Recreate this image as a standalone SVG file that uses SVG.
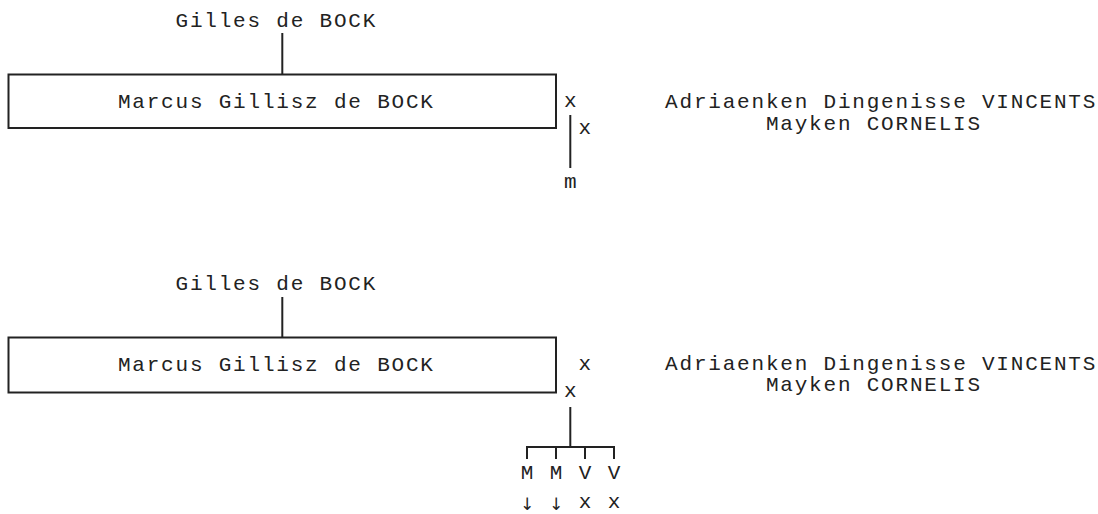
<svg xmlns="http://www.w3.org/2000/svg" width="1098" height="514" viewBox="0 0 1098 514">
<style>
text{font-family:"Liberation Mono","Courier New","DejaVu Sans Mono",monospace;font-size:21px;letter-spacing:1.8px;fill:#222}
.c{text-anchor:middle;letter-spacing:0}
.ar{font-family:"DejaVu Sans","Liberation Sans",sans-serif;font-size:17px;fill:#222}
.box{fill:none;stroke:#222;stroke-width:2}
.ln{stroke:#222;stroke-width:2;fill:none}
</style>
<rect width="1098" height="514" fill="#fff"/>
<!-- Diagram 1 -->
<g id="d1-gilles"><text x="175.5" y="27">Gilles de BOCK</text></g>
<g id="d1-marcus"><rect class="box" x="8.5" y="74.5" width="547.5" height="53.5"/><text x="117.9" y="108">Marcus Gillisz de BOCK</text></g>
<g id="d1-spouse1"><text class="c" x="570.3" y="107">x</text><text x="665.1" y="108">Adriaenken Dingenisse VINCENTS</text></g>
<g id="d1-spouse2"><text class="c" x="584.7" y="134">x</text><text x="765.9" y="130">Mayken CORNELIS</text></g>
<g id="d1-child"><text class="c" x="570.3" y="188">m</text></g>
<g id="d1-connectors">
<line class="ln" x1="282.3" y1="33" x2="282.3" y2="74.5"/>
<line class="ln" x1="570.3" y1="115" x2="570.3" y2="168"/>
</g>
<!-- Diagram 2 -->
<g id="d2-gilles"><text x="175.5" y="290">Gilles de BOCK</text></g>
<g id="d2-marcus"><rect class="box" x="8.5" y="337.5" width="547.5" height="55"/><text x="117.9" y="371">Marcus Gillisz de BOCK</text></g>
<g id="d2-spouse1"><text class="c" x="584.7" y="370">x</text><text x="665.1" y="370">Adriaenken Dingenisse VINCENTS</text></g>
<g id="d2-spouse2"><text class="c" x="570.3" y="397">x</text><text x="765.9" y="391">Mayken CORNELIS</text></g>
<g id="d2-child1"><text class="c" x="527" y="479">M</text><text class="c ar" x="527" y="510">↓</text></g>
<g id="d2-child2"><text class="c" x="556" y="479">M</text><text class="c ar" x="556" y="510">↓</text></g>
<g id="d2-child3"><text class="c" x="585" y="508">x</text><text class="c" x="585" y="479">V</text></g>
<g id="d2-child4"><text class="c" x="614" y="508">x</text><text class="c" x="614" y="479">V</text></g>
<g id="d2-connectors">
<line class="ln" x1="282.3" y1="297" x2="282.3" y2="337.5"/>
<line class="ln" x1="570.3" y1="407" x2="570.3" y2="447"/>
<path class="ln" d="M527 459V447H614V459M556 447V459M585 447V459"/>
</g>
</svg>
